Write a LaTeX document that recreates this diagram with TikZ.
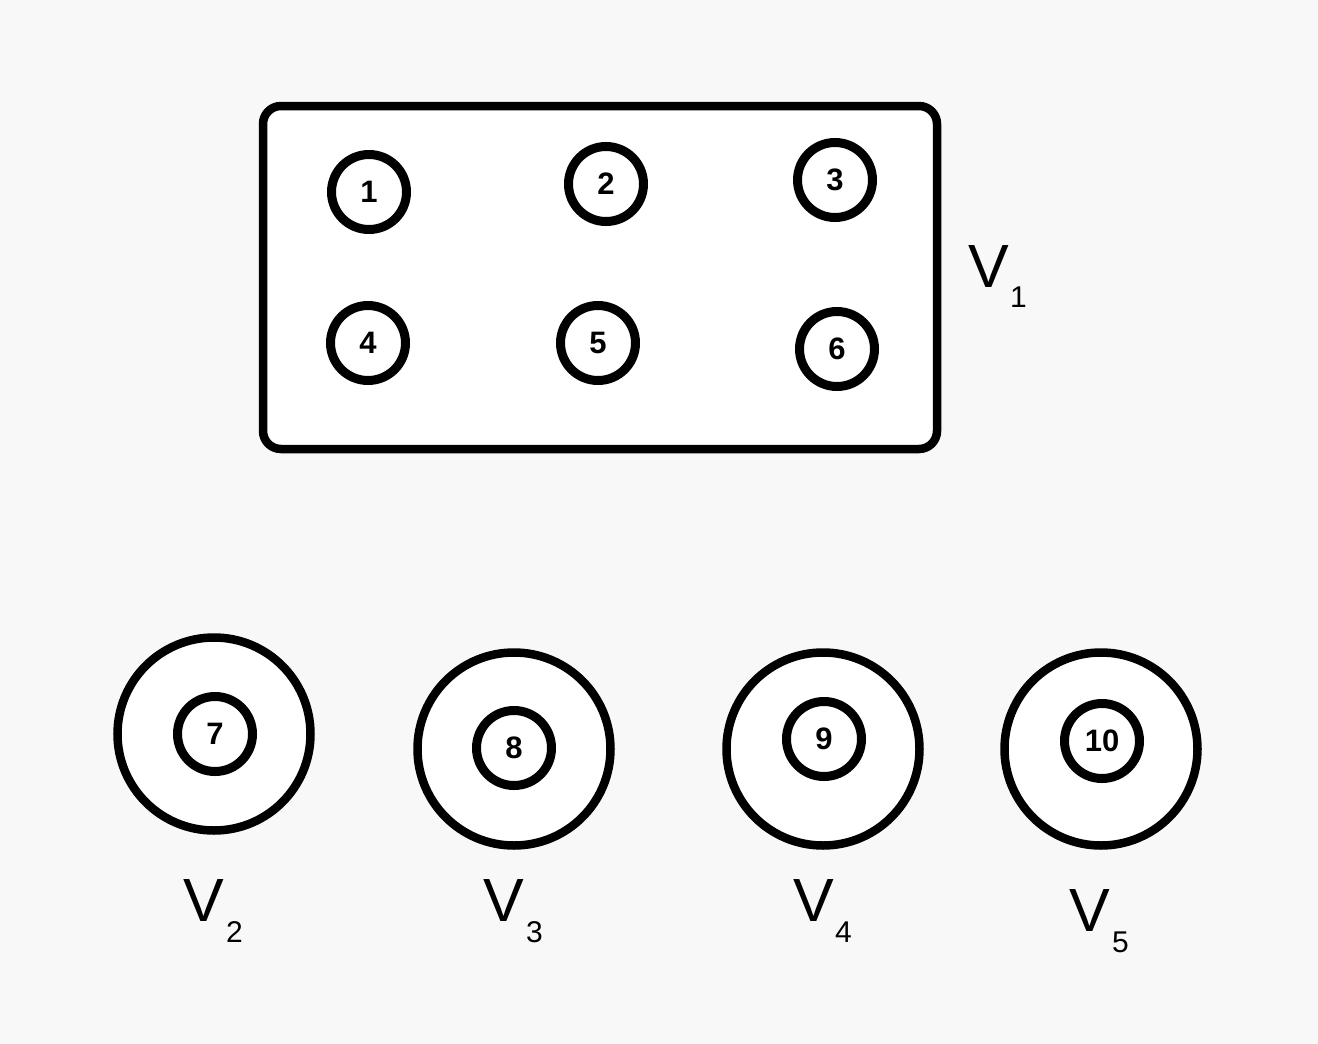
\documentclass[tikz,border=0pt]{standalone}
\usepackage{fontspec}
\setmainfont{Liberation Sans}
\begin{document}
\begin{tikzpicture}[x=1pt,y=-1pt,
  vnode/.style={circle,draw=black,fill=white,line width=9pt,minimum size=75pt,inner sep=0pt,font=\fontsize{31}{32}\selectfont\bfseries},
  bigring/.style={circle,draw=black,fill=white,line width=8.5pt,minimum size=193pt,inner sep=0pt},
  vlabel/.style={font=\fontsize{61}{62}\selectfont,inner sep=0pt,anchor=base east},
  vsub/.style={font=\fontsize{30}{31}\selectfont,inner sep=0pt,anchor=base west}]
\fill[fill={rgb,255:red,248;green,248;blue,248}] (0,0) rectangle (1318,1044);
\useasboundingbox (0,0) rectangle (1318,1044);
\draw[line width=8.5pt,rounded corners=18pt,fill=white,draw=black] (263,106) rectangle (937,449);
\node[vnode] (n1) at (369,192) {1};
\node[vnode] (n2) at (606,184) {2};
\node[vnode] (n3) at (835,180) {3};
\node[vnode] (n4) at (368,343) {4};
\node[vnode] (n5) at (598,343) {5};
\node[vnode] (n6) at (837,349) {6};
\node[vlabel] (v1) at (1009,287) {V};
\node[vsub] (s1) at (1010,307) {1};
\node[bigring] (r2) at (214,734) {};
\node[bigring] (r3) at (514,749) {};
\node[bigring] (r4) at (823,749) {};
\node[bigring] (r5) at (1101,749) {};
\node[vnode] (n7) at (215,734) {7};
\node[vnode] (n8) at (514,748) {8};
\node[vnode] (n9) at (824,739) {9};
\node[vnode] (n10) at (1102,741) {10};
\node[vlabel] (v2) at (224,921) {V};
\node[vsub] (s2) at (226,942) {2};
\node[vlabel] (v3) at (524,921) {V};
\node[vsub] (s3) at (526,942) {3};
\node[vlabel] (v4) at (834,921) {V};
\node[vsub] (s4) at (835,942) {4};
\node[vlabel] (v5) at (1110,931) {V};
\node[vsub] (s5) at (1112,952) {5};
\end{tikzpicture}
\end{document}
